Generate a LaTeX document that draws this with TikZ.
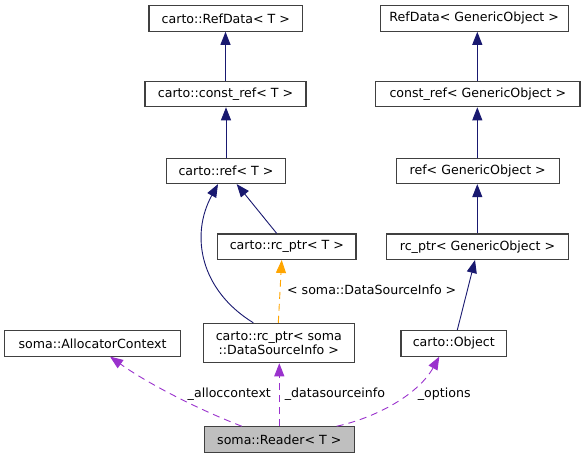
\documentclass[tikz,border=0pt]{standalone}
\usepackage{fontspec}
\setmainfont{DejaVu Sans}
\usetikzlibrary{arrows.meta,calc}
\definecolor{boxline}{HTML}{404040}
\definecolor{inhblue}{HTML}{191970}
\definecolor{usepurple}{HTML}{9A32CD}
\definecolor{tmplorange}{HTML}{FFA500}
\definecolor{readerfill}{HTML}{BFBFBF}
\begin{document}
\begin{tikzpicture}[x=1pt,y=-1pt,
  cls/.style={draw=boxline, line width=1.1pt, fill=white, minimum height=25.5pt,
    inner sep=0pt, font=\fontsize{12.6}{14.3}\selectfont, align=center},
  lbl/.style={inner sep=0pt, font=\fontsize{12.6}{14.3}\selectfont},
  inh/.style={draw=inhblue, line width=0.9pt, -{Triangle[length=13pt,width=10pt]}},
  usedge/.style={draw=usepurple, line width=0.9pt, dash pattern=on 7pt off 5pt,
    -{Triangle[length=13pt,width=10pt]}},
  tmpl/.style={draw=tmplorange, line width=0.9pt, dash pattern=on 7pt off 5pt,
    -{Triangle[length=13pt,width=10pt]}},
]
\useasboundingbox (0,0) rectangle (585,459);
\fill[white] (0,0) rectangle (585,459);

% left column
\node[cls, minimum width=153.7pt] (RefDataT) at (225.8,18.5) {carto::RefData< T >};
\node[cls, minimum width=161pt] (constrefT) at (225.5,94) {carto::const\_ref< T >};
\node[cls, minimum width=118.6pt] (refT) at (226,170.8) {carto::ref< T >};
\node[cls, minimum width=138.3pt] (rcptrT) at (286.8,246.7) {carto::rc\_ptr< T >};
\node[cls, minimum width=151pt, minimum height=39.4pt] (rcptrDSI) at (278.8,343)
  {carto::rc\_ptr< soma\\::DataSourceInfo >};
\node[cls, minimum width=175.6pt] (alloc) at (92.5,343.3) {soma::AllocatorContext};
\node[cls, minimum width=150pt, fill=readerfill] (reader) at (279.3,439.5) {soma::Reader< T >};

% right column
\node[cls, minimum width=188.3pt] (RefDataGO) at (474.2,18.5) {RefData< GenericObject >};
\node[cls, minimum width=204.3pt] (constrefGO) at (477.8,94) {const\_ref< GenericObject >};
\node[cls, minimum width=163.3pt] (refGO) at (477.7,170.8) {ref< GenericObject >};
\node[cls, minimum width=181.6pt] (rcptrGO) at (477.5,246.7) {rc\_ptr< GenericObject >};
\node[cls, minimum width=105.7pt] (object) at (453.8,343.3) {carto::Object};

% inheritance edges, left
\draw[inh] (constrefT.north) -- (constrefT.north |- RefDataT.south);
\draw[inh] (refT.north) -- (refT.north |- constrefT.south);
\draw[inh] ($(rcptrT.north)+(-10.1,0)$) -- ($(refT.south)+(10.7,0)$);
\draw[inh] ($(rcptrDSI.north)+(-25.5,0)$) .. controls (200,290) and (190,235) .. ($(refT.south)+(-8,0)$);

% inheritance edges, right
\draw[inh] ($(constrefGO.north)+(-0.5,0)$) -- ($(constrefGO.north |- RefDataGO.south)+(-0.5,0)$);
\draw[inh] ($(refGO.north)+(-0.4,0)$) -- ($(refGO.north |- constrefGO.south)+(-0.4,0)$);
\draw[inh] ($(rcptrGO.north)+(-0.2,0)$) -- ($(rcptrGO.north |- refGO.south)+(-0.2,0)$);
\draw[inh] ($(object.north)+(3.5,0)$) -- ($(rcptrGO.south)+(-2.5,0)$);

% template instance
\draw[tmpl] ($(rcptrDSI.north)+(-0.5,0)$) -- ($(rcptrT.south)+(-5.1,0)$);
\node[lbl] (tmpllbl) at (371.7,290) {< soma::DataSourceInfo >};

% usage edges
\draw[usedge] (reader.north) -- (reader.north |- rcptrDSI.south);
\draw[usedge] ($(reader.north)+(-37.6,0)$) .. controls (200,410) and (150,385) .. ($(alloc.south)+(17.5,0)$);
\draw[usedge] ($(reader.north)+(57.4,0)$) .. controls (375,418) and (418,395) .. ($(object.south)+(-14.5,0)$);
\node[lbl] (lblalloc) at (229.3,394.3) {\_alloccontext};
\node[lbl] (lbldsi) at (335,394.3) {\_datasourceinfo};
\node[lbl] (lblopt) at (444.2,394.3) {\_options};
\end{tikzpicture}
\end{document}
